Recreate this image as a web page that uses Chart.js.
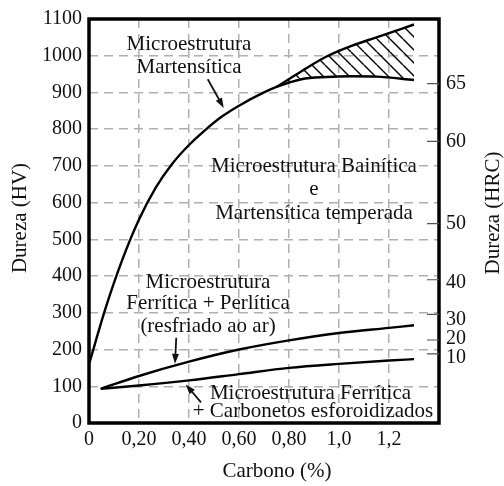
<!DOCTYPE html>
<html>
<head>
<meta charset="utf-8">
<script src="https://cdn.jsdelivr.net/npm/chart.js@4.4.1/dist/chart.umd.min.js"></script>
<style>
  html, body { margin: 0; padding: 0; background: #fff; }
  canvas { display: block; }
</style>
</head>
<body>
<canvas id="grafico" width="504" height="486"></canvas>
<script>
// Valores: carbono (%) x dureza (HV)
const carbonoMart = [0, 0.067, 0.133, 0.2, 0.267, 0.333, 0.4, 0.467, 0.533, 0.6, 0.7, 0.75, 0.85, 0.95, 1.05, 1.15, 1.3];
const durezaMart = [160, 314, 444, 554, 641, 706, 757, 799, 835, 864, 900, 915, 936, 942, 944, 943, 934];

const carbonoMartSup = [0.75, 0.85, 0.95, 1.05, 1.15, 1.3];
const durezaMartSup = [915, 958, 998, 1027, 1050, 1085];

const carbonoFerr = [0.047, 0.2, 0.4, 0.6, 0.8, 1.0, 1.2, 1.3];
const durezaFerrPerl = [93, 128, 167, 200, 225, 245, 259, 266];
const durezaFerrCarb = [93, 102, 116, 133, 150, 161, 170, 174];

// eixo x e eixo HRC
const xRotulos = ['0', '0,20', '0,40', '0,60', '0,80', '1,0', '1,2', ''];
const hrcRotulos = ['10', '20', '30', '40', '50', '60', '65'];
const hrcMarcaHV = [188, 226, 296, 390, 543, 767, 924];
const hrcRotuloHV = [178, 229, 282, 382, 543, 767, 923];

// textos dentro do gráfico (posição em carbono / HV)
const rotulos = ['Microestrutura', 'Martensítica',
    'Microestrutura Bainítica', 'e', 'Martensítica temperada',
    'Microestrutura', 'Ferrítica + Perlítica', '(resfriado ao ar)',
    'Microestrutura Ferrítica', '+ Carbonetos esforoidizados'];
const rotuloX = [0.4, 0.4, 0.9, 0.9, 0.9, 0.476, 0.476, 0.476, 0.886, 0.896];
const rotuloY = [1030, 968, 699, 635, 570, 382, 325, 264, 81, 30];

// setas: origem -> ponta
const setaDe = [[0.475, 936], [0.349, 232], [0.448, 56]];
const setaAte = [[0.539, 858], [0.344, 161], [0.387, 105]];

const pontos = (xs, ys) => xs.map((v, i) => ({ x: v, y: ys[i] }));

// hachurado da região entre os dois ramos
function hachura() {
    const s = 13;
    const c = document.createElement('canvas');
    c.width = s; c.height = s;
    const g = c.getContext('2d');
    g.strokeStyle = '#000';
    g.lineWidth = 1.4;
    for (let k = -1; k <= 1; k++) {
        g.beginPath();
        g.moveTo(k * s, 0);
        g.lineTo(k * s + s, s);
        g.stroke();
    }
    return g.createPattern(c, 'repeat');
}

const fonte = '"Liberation Serif", "Times New Roman", serif';
Chart.defaults.font.family = fonte;
Chart.defaults.color = '#111';

function seta(ctx, x0, y0, x1, y1) {
    const ang = Math.atan2(y1 - y0, x1 - x0);
    const L = 10, W = 3.5;
    ctx.beginPath();
    ctx.moveTo(x0, y0);
    ctx.lineTo(x1 - Math.cos(ang) * L * 0.6, y1 - Math.sin(ang) * L * 0.6);
    ctx.stroke();
    ctx.beginPath();
    ctx.moveTo(x1, y1);
    ctx.lineTo(x1 - Math.cos(ang) * L - Math.sin(ang) * W, y1 - Math.sin(ang) * L + Math.cos(ang) * W);
    ctx.lineTo(x1 - Math.cos(ang) * L + Math.sin(ang) * W, y1 - Math.sin(ang) * L - Math.cos(ang) * W);
    ctx.closePath();
    ctx.fill();
}

const desenho = {
    id: 'desenho',
    afterDatasetsDraw(chart) {
        const { ctx, chartArea: a, scales } = chart;
        const x = scales.x, y = scales.y, yr = scales.yHRC;
        ctx.save();
        ctx.fillStyle = '#111';
        ctx.strokeStyle = '#111';
        ctx.font = '21px ' + fonte;
        ctx.textAlign = 'center';
        ctx.textBaseline = 'middle';
        rotulos.forEach((t, i) => {
            ctx.fillText(t, x.getPixelForValue(rotuloX[i]), y.getPixelForValue(rotuloY[i]));
        });

        ctx.lineWidth = 1.8;
        setaDe.forEach((p, i) => {
            const q = setaAte[i];
            seta(ctx, x.getPixelForValue(p[0]), y.getPixelForValue(p[1]),
                x.getPixelForValue(q[0]), y.getPixelForValue(q[1]));
        });

        // moldura
        ctx.strokeStyle = '#000';
        ctx.lineWidth = 3.5;
        ctx.strokeRect(a.left, a.top, a.right - a.left, a.bottom - a.top);

        // marcas da escala HRC para dentro
        ctx.lineWidth = 1.2;
        ctx.strokeStyle = '#555';
        ctx.beginPath();
        hrcMarcaHV.forEach(v => {
            const py = yr.getPixelForValue(v);
            ctx.moveTo(a.right - 12, py);
            ctx.lineTo(a.right, py);
        });
        ctx.stroke();

        // títulos dos eixos
        ctx.fillStyle = '#111';
        ctx.font = '21px ' + fonte;
        ctx.fillText('Carbono (%)', 277, 471);
        ctx.save();
        ctx.translate(20, 218);
        ctx.rotate(-Math.PI / 2);
        ctx.fillText('Dureza (HV)', 0, 0);
        ctx.restore();
        ctx.save();
        ctx.translate(493, 213);
        ctx.rotate(-Math.PI / 2);
        ctx.fillText('Dureza (HRC)', 0, 0);
        ctx.restore();
        ctx.restore();
    }
};

const grade = { color: '#b0b0b0', lineWidth: 1.5, drawTicks: false };
const tracado = { dash: [9, 6], display: false };

new Chart(document.getElementById('grafico'), {
    type: 'line',
    data: {
        datasets: [
            {
                label: 'Martensítica',
                data: pontos(carbonoMart, durezaMart),
                borderColor: '#000', borderWidth: 2.4,
                pointRadius: 0, cubicInterpolationMode: 'monotone', fill: false
            },
            {
                label: 'Martensítica (ramo superior)',
                data: pontos(carbonoMartSup, durezaMartSup),
                borderColor: '#000', borderWidth: 2.4,
                pointRadius: 0, cubicInterpolationMode: 'monotone',
                fill: '-1', backgroundColor: hachura()
            },
            {
                label: 'Ferrítica + Perlítica',
                data: pontos(carbonoFerr, durezaFerrPerl),
                borderColor: '#000', borderWidth: 2.4,
                pointRadius: 0, cubicInterpolationMode: 'monotone', fill: false
            },
            {
                label: 'Ferrítica + Carbonetos',
                data: pontos(carbonoFerr, durezaFerrCarb),
                borderColor: '#000', borderWidth: 2.4,
                pointRadius: 0, cubicInterpolationMode: 'monotone', fill: false
            }
        ]
    },
    options: {
        responsive: false,
        animation: false,
        layout: { padding: { top: 14 } },
        plugins: { legend: { display: false }, tooltip: { enabled: false } },
        scales: {
            x: {
                type: 'linear', min: 0, max: 1.4,
                grid: grade, border: tracado,
                ticks: {
                    stepSize: 0.2, padding: 5, maxRotation: 0, autoSkip: false,
                    font: { size: 20 },
                    callback: v => xRotulos[Math.round(v / 0.2)]
                },
                afterFit: s => { s.height = 63; }
            },
            y: {
                position: 'left', min: 0, max: 1100,
                grid: grade, border: tracado,
                ticks: { stepSize: 100, padding: 7, font: { size: 20 }, callback: v => String(v) },
                afterFit: s => { s.width = 89; }
            },
            yHRC: {
                position: 'right', min: 0, max: 1100,
                grid: { drawOnChartArea: false, drawTicks: false },
                border: { display: false },
                afterBuildTicks: s => { s.ticks = hrcRotuloHV.map(v => ({ value: v })); },
                ticks: {
                    padding: 7, font: { size: 20 }, autoSkip: false,
                    callback: v => hrcRotulos[hrcRotuloHV.indexOf(v)]
                },
                afterFit: s => { s.width = 65; }
            }
        }
    },
    plugins: [desenho]
});
</script>
</body>
</html>
